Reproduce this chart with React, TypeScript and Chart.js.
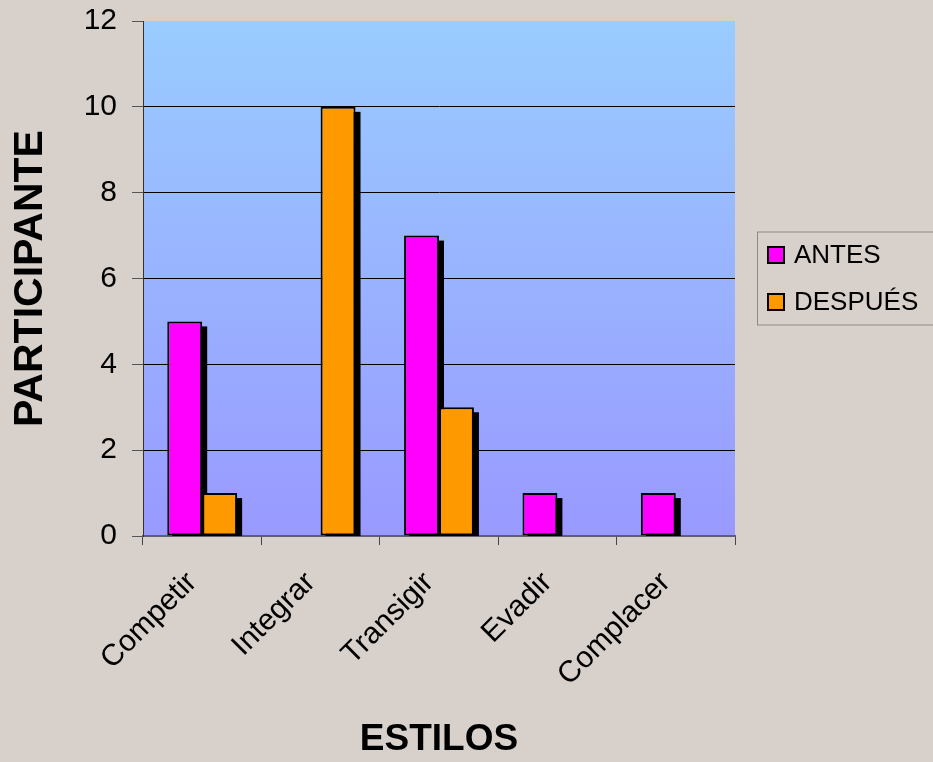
import React, { useEffect, useRef } from "react";
import { Chart, registerables } from "chart.js";

Chart.register(...registerables);

// Conflict-handling styles and participant counts before/after
const categories = ["Competir", "Integrar", "Transigir", "Evadir", "Complacer"];
const antes = [5, 0, 7, 1, 1];
const despues = [1, 10, 3, 0, 0];
const seriesLabels = ["ANTES", "DESPUÉS"];
const yTicks = [0, 2, 4, 6, 8, 10, 12];

const FONT = '"Liberation Sans", Arial, sans-serif';
const PAGE_BG = "#D8D1CB";
const COLORS = ["#FF00FF", "#FF9900"];

// Page background plus the blue gradient behind the plot area
const backdrop = {
  id: "backdrop",
  beforeDraw(chart: any) {
    const { ctx, chartArea, width, height } = chart;
    ctx.save();
    ctx.fillStyle = PAGE_BG;
    ctx.fillRect(0, 0, width, height);
    const g = ctx.createLinearGradient(0, chartArea.top, 0, chartArea.bottom);
    g.addColorStop(0, "#99CCFF");
    g.addColorStop(1, "#9999FF");
    ctx.fillStyle = g;
    ctx.fillRect(chartArea.left, chartArea.top, chartArea.right - chartArea.left, chartArea.bottom - chartArea.top);
    ctx.restore();
  },
};

// Hard black drop shadow behind every bar
const barShadow = {
  id: "barShadow",
  beforeDatasetsDraw(chart: any) {
    const { ctx, chartArea } = chart;
    const off = 5;
    ctx.save();
    ctx.beginPath();
    ctx.rect(chartArea.left, chartArea.top, chartArea.right - chartArea.left, chartArea.bottom - chartArea.top);
    ctx.clip();
    ctx.fillStyle = "#000";
    chart.data.datasets.forEach((_: any, i: number) => {
      const meta = chart.getDatasetMeta(i);
      meta.data.forEach((el: any) => {
        const { x, y, base, width } = el.getProps(["x", "y", "base", "width"], true);
        const top = Math.min(y, base);
        const h = Math.abs(base - y);
        if (h <= 0) return;
        ctx.fillRect(x - width / 2 + off, top + off, width, h);
      });
    });
    ctx.restore();
  },
};

// Boxed legend to the right of the plot
const boxLegend = {
  id: "boxLegend",
  afterDraw(chart: any) {
    const { ctx, chartArea } = chart;
    const midY = (chartArea.top + chartArea.bottom) / 2;
    const left = chartArea.right + 22;
    const rowGap = 47;
    const boxTop = midY - 47;
    ctx.save();
    ctx.strokeStyle = "#8a8a8a";
    ctx.lineWidth = 1;
    ctx.strokeRect(left + 0.5, boxTop + 0.5, chart.width - left + 5, 93);
    ctx.font = `26px ${FONT}`;
    ctx.textBaseline = "middle";
    ctx.textAlign = "left";
    chart.data.datasets.forEach((ds: any, i: number) => {
      const cy = midY - rowGap / 2 + i * rowGap;
      ctx.fillStyle = ds.backgroundColor;
      ctx.fillRect(left + 10, cy - 9, 18, 18);
      ctx.strokeStyle = "#000";
      ctx.lineWidth = 2;
      ctx.strokeRect(left + 11, cy - 8, 16, 16);
      ctx.fillStyle = "#000";
      ctx.fillText(ds.label, left + 37, cy + 1);
    });
    ctx.restore();
  },
};

export default function App() {
  const ref = useRef<HTMLCanvasElement | null>(null);

  useEffect(() => {
    if (!ref.current) return;
    const chart = new Chart(ref.current, {
      type: "bar",
      data: {
        labels: categories,
        datasets: [
          {
            label: seriesLabels[0],
            data: antes,
            backgroundColor: COLORS[0],
            borderColor: "#000",
            borderWidth: 2,
            borderSkipped: false,
            categoryPercentage: 0.59,
            barPercentage: 1,
          },
          {
            label: seriesLabels[1],
            data: despues,
            backgroundColor: COLORS[1],
            borderColor: "#000",
            borderWidth: 2,
            borderSkipped: false,
            categoryPercentage: 0.59,
            barPercentage: 1,
          },
        ],
      },
      options: {
        responsive: false,
        animation: false,
        layout: { padding: { top: 21, right: 198, left: 0, bottom: 0 } },
        plugins: {
          legend: { display: false },
          tooltip: { enabled: false },
        },
        scales: {
          x: {
            afterFit: (scale: any) => {
              scale.height = 226;
              scale.paddingLeft = 0;
              scale.paddingRight = 0;
            },
            grid: {
              offset: true,
              drawOnChartArea: false,
              tickLength: 9,
              tickColor: "#444",
            },
            border: { color: "#5f5f70", width: 2 },
            ticks: {
              color: "#000",
              font: { family: FONT, size: 30 },
              minRotation: 45,
              maxRotation: 45,
              autoSkip: false,
              padding: 20,
              labelOffset: -10,
            },
            title: {
              display: true,
              text: "ESTILOS",
              color: "#000",
              font: { family: FONT, size: 37, weight: "bold" },
              padding: { top: 0, bottom: 0 },
            },
          },
          y: {
            min: 0,
            max: 12,
            afterFit: (scale: any) => {
              scale.width = 143;
              scale.paddingTop = 0;
              scale.paddingBottom = 0;
            },
            afterBuildTicks: (scale: any) => {
              scale.ticks = yTicks.map((v) => ({ value: v }));
            },
            grid: {
              color: (c: any) => (c.tick && c.tick.value > 0 && c.tick.value < 12 ? "#000" : "rgba(0,0,0,0)"),
              tickColor: "#555",
              tickLength: 11,
              lineWidth: 1,
            },
            border: { color: "#333", width: 1 },
            ticks: {
              color: "#000",
              font: { family: FONT, size: 30 },
              padding: 15,
            },
            title: {
              display: true,
              text: "PARTICIPANTE",
              color: "#000",
              font: { family: FONT, size: 41, weight: "bold" },
              padding: { top: 6, bottom: 0 },
            },
          },
        },
      },
      plugins: [backdrop, barShadow, boxLegend],
    });
    return () => chart.destroy();
  }, []);

  return (
    <div style={{ position: "fixed", left: 0, top: 0, width: 933, height: 762, background: PAGE_BG }}>
      <canvas ref={ref} width={933} height={762} style={{ display: "block" }} />
    </div>
  );
}
